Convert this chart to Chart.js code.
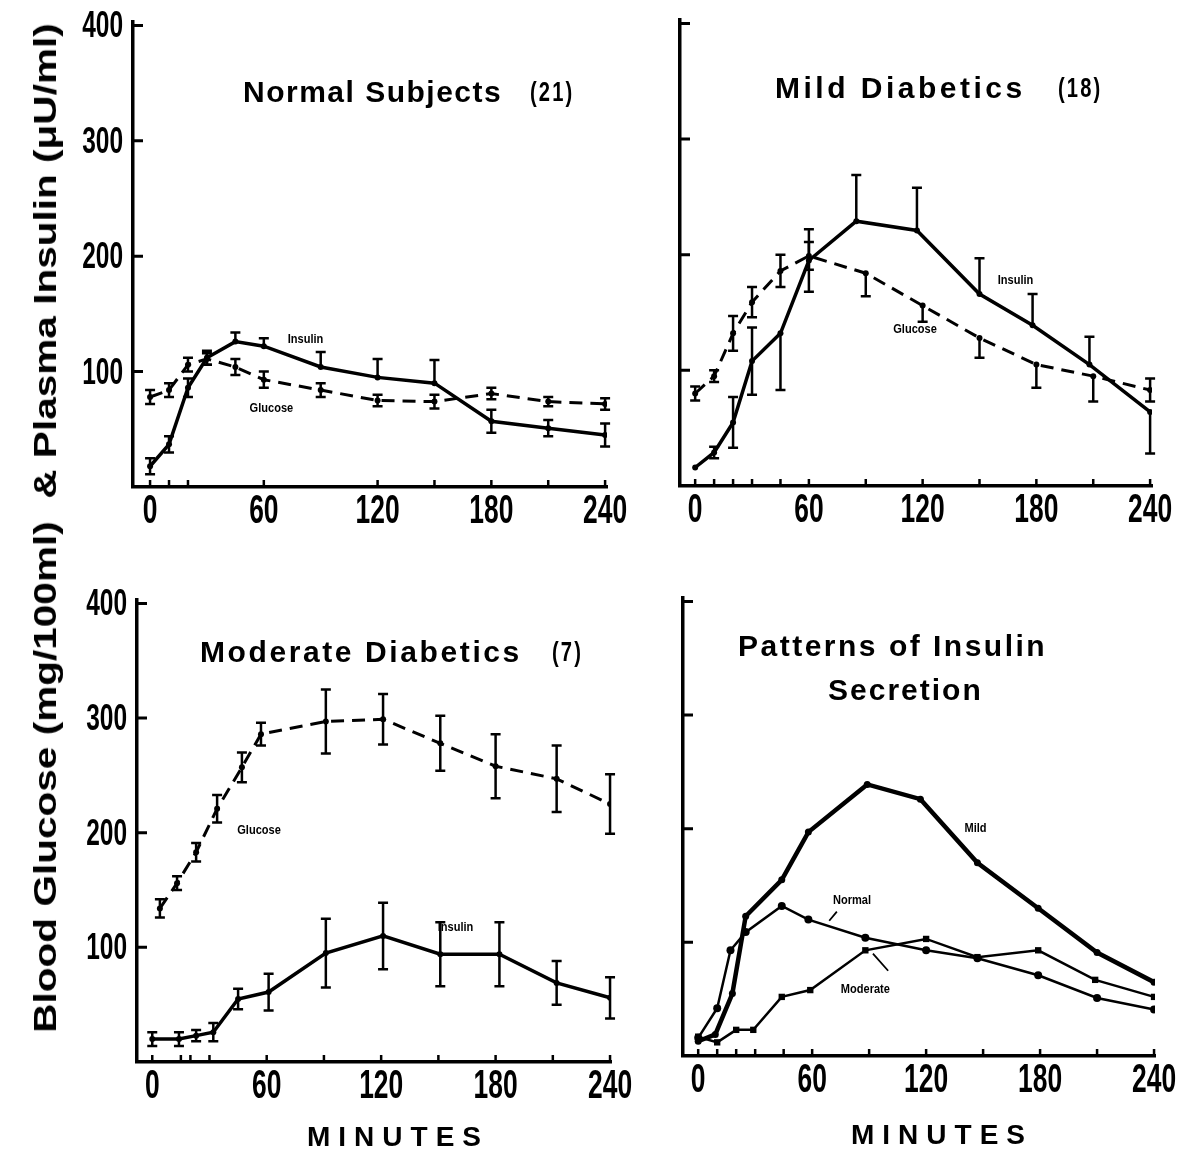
<!DOCTYPE html>
<html>
<head>
<meta charset="utf-8">
<script src="https://cdn.jsdelivr.net/npm/chart.js@4.4.1/dist/chart.umd.min.js"></script>
<style>
  body { margin: 0; width: 1187px; height: 1155px; background: #fff; position: relative; overflow: hidden;
         font-family: "Liberation Sans", Arial, sans-serif; color: #000; }
  canvas { position: absolute; }
  .t { position: absolute; font-weight: bold; white-space: pre; line-height: 1; transform: translateY(-50%); font-size: 30px; }
  .n { position: absolute; font-weight: bold; white-space: pre; line-height: 1; font-size: 28px;
       transform: translateY(-50%) scaleX(0.72); transform-origin: left center; letter-spacing: 3px; }
  .mins { position: absolute; font-weight: bold; font-size: 28px; letter-spacing: 8px; line-height: 1; transform: translate(-50%, -50%); }
  #ytitle { position: absolute; left: 45px; top: 528px; font-weight: bold; font-size: 32px; white-space: pre; line-height: 1;
            transform: translate(-50%, -50%) rotate(-90deg); }
</style>
</head>
<body>
<canvas id="c1" width="575" height="540" style="left:60px;top:0px"></canvas>
<canvas id="c2" width="547" height="540" style="left:640px;top:0px"></canvas>
<canvas id="c3" width="580" height="595" style="left:60px;top:560px"></canvas>
<canvas id="c4" width="547" height="595" style="left:640px;top:560px"></canvas>

<div id="ytitle">Blood Glucose (mg/100ml)  &amp; Plasma Insulin (μU/ml)</div>
<div class="t" style="left:243px;top:92px;letter-spacing:1.5px">Normal Subjects</div>
<div class="n" style="left:530px;top:92px">(21)</div>
<div class="t" style="left:775px;top:88px;letter-spacing:3.5px">Mild Diabetics</div>
<div class="n" style="left:1058px;top:88px">(18)</div>
<div class="t" style="left:200px;top:652px;letter-spacing:2.6px">Moderate Diabetics</div>
<div class="n" style="left:552px;top:652px">(7)</div>
<div class="t" style="left:738px;top:646px;letter-spacing:2.5px">Patterns of Insulin</div>
<div class="t" style="left:828px;top:690px;letter-spacing:2px">Secretion</div>
<div class="mins" style="left:398px;top:1137px">MINUTES</div>
<div class="mins" style="left:942px;top:1135px">MINUTES</div>

<script>
// axis ticks
const minuteTicks = [0, 60, 120, 180, 240];
const valueTicks = [100, 200, 300, 400];

// Normal Subjects (21)
const normInsMin = [0, 10, 20, 30, 45, 60, 90, 120, 150, 180, 210, 240];
const normIns = [18, 37, 86, 112, 126, 122, 104, 95, 90, 57, 51, 45];
const normInsUp = [7, 7, 8, 6, 8, 7, 13, 16, 20, 10, 7, 10];
const normInsDown = [7, 7, 8, 6, 0, 0, 0, 0, 0, 10, 7, 10];
const normGluMin = [0, 10, 20, 30, 45, 60, 90, 120, 150, 180, 210, 240];
const normGlu = [78, 84, 106, 111, 104, 93, 84, 75, 74, 81, 74, 72];
const normGluErr = [6, 6, 6, 5, 7, 7, 6, 5, 6, 5, 4, 5];

// Mild Diabetics (18)
const mildInsMin = [0, 10, 20, 30, 45, 60, 85, 117, 150, 178, 208, 240];
const mildIns = [16, 29, 55, 108, 132, 195, 229, 221, 166, 139, 105, 64];
const mildInsUp = [0, 5, 22, 29, 0, 27, 40, 37, 31, 27, 24, 0];
const mildInsDown = [0, 5, 22, 29, 49, 27, 0, 0, 0, 0, 0, 36];
const mildGluMin = [0, 10, 20, 30, 45, 60, 90, 120, 150, 180, 210, 240];
const mildGlu = [80, 95, 132, 159, 186, 199, 184, 156, 128, 105, 95, 83];
const mildGluUp = [6, 5, 15, 13, 14, 12, 0, 0, 0, 0, 0, 10];
const mildGluDown = [6, 5, 15, 13, 14, 12, 20, 14, 17, 20, 22, 10];

// Moderate Diabetics (7)
const modGluMin = [4, 13, 23, 34, 47, 57, 91, 121, 151, 180, 212, 240];
const modGlu = [134, 156, 183, 221, 257, 286, 297, 299, 278, 258, 247, 225];
const modGluErr = [8, 6, 8, 12, 13, 10, 28, 22, 24, 28, 29, 26];
const modInsMin = [0, 14, 23, 32, 45, 61, 91, 121, 151, 182, 212, 240];
const modIns = [20, 20, 23, 26, 55, 61, 95, 110, 94, 94, 69, 56];
const modInsErr = [6, 6, 5, 8, 9, 16, 30, 29, 28, 28, 19, 18];

// Patterns of Insulin Secretion
const patMildMin = [0, 9, 18, 25, 44, 58, 89, 117, 147, 179, 210, 240];
const patMild = [13, 19, 55, 123, 155, 197, 239, 226, 170, 130, 91, 65];
const patNormMin = [0, 10, 17, 25, 44, 58, 88, 120, 147, 179, 210, 240];
const patNorm = [16, 42, 93, 109, 132, 120, 104, 93, 86, 71, 51, 41];
const patModMin = [0, 10, 20, 29, 44, 59, 88, 120, 147, 179, 209, 240];
const patMod = [17, 12, 23, 23, 52, 58, 93, 103, 87, 93, 67, 52];

const pts = (xs, ys) => xs.map((x, i) => ({ x: x, y: ys[i] }));

// stretch the long y title to the height of both panels
const yt = document.getElementById('ytitle');
yt.style.transform = 'translate(-50%, -50%) rotate(-90deg) scaleX(' + (1010 / yt.offsetWidth) + ')';

// vertical error bars, drawn through the y scale
const errorBars = {
  id: 'errorBars',
  afterDatasetsDraw(chart) {
    const ctx = chart.ctx, ys = chart.scales.y;
    chart.data.datasets.forEach((ds, i) => {
      if (!ds.errUp) return;
      const meta = chart.getDatasetMeta(i);
      ctx.save();
      ctx.strokeStyle = '#000';
      ctx.lineWidth = 2.5;
      meta.data.forEach((p, j) => {
        const v = ds.data[j].y;
        const top = ys.getPixelForValue(v + ds.errUp[j]);
        const bot = ys.getPixelForValue(v - ds.errDown[j]);
        ctx.beginPath();
        ctx.moveTo(p.x, top); ctx.lineTo(p.x, bot);
        if (ds.errUp[j]) { ctx.moveTo(p.x - 5, top); ctx.lineTo(p.x + 5, top); }
        if (ds.errDown[j]) { ctx.moveTo(p.x - 5, bot); ctx.lineTo(p.x + 5, bot); }
        ctx.stroke();
      });
      ctx.restore();
    });
  }
};

// condensed text helper (the print uses a very narrow bold face)
function narrowText(ctx, text, x, y, sx) {
  ctx.save();
  ctx.translate(x, y);
  ctx.scale(sx, 1);
  ctx.fillText(text, 0, 0);
  ctx.restore();
}

// inward tick marks, tick labels and in-plot text labels
const marks = {
  id: 'marks',
  afterDraw(chart, args, opts) {
    const ctx = chart.ctx, xs = chart.scales.x, ys = chart.scales.y, a = chart.chartArea;
    ctx.save();
    ctx.strokeStyle = '#000';
    ctx.fillStyle = '#000';
    ctx.lineWidth = 3;
    ctx.beginPath();
    ys.ticks.forEach(t => {
      const py = ys.getPixelForValue(t.value);
      ctx.moveTo(a.left, py); ctx.lineTo(a.left + 10, py);
    });
    ctx.stroke();
    ctx.lineWidth = 2.5;
    ctx.beginPath();
    (opts.xMarks || []).forEach(m => {
      const px = xs.getPixelForValue(m);
      ctx.moveTo(px, a.bottom); ctx.lineTo(px, a.bottom - 7);
    });
    ctx.stroke();

    ctx.font = 'bold 40px "Liberation Sans", Arial, sans-serif';
    ctx.textBaseline = 'middle';
    ctx.textAlign = 'center';
    xs.ticks.forEach(t => {
      narrowText(ctx, String(t.value), xs.getPixelForValue(t.value), a.bottom + 25, 0.66);
    });
    if (opts.yLabels) {
      ctx.font = 'bold 36px "Liberation Sans", Arial, sans-serif';
      ctx.textAlign = 'right';
      ys.ticks.forEach(t => {
        narrowText(ctx, String(t.value), a.left - 10, ys.getPixelForValue(t.value) + 2, 0.68);
      });
    }

    ctx.lineWidth = 1.8;
    ctx.beginPath();
    (opts.leaders || []).forEach(l => {
      ctx.moveTo(xs.getPixelForValue(l[0]), ys.getPixelForValue(l[1]));
      ctx.lineTo(xs.getPixelForValue(l[2]), ys.getPixelForValue(l[3]));
    });
    ctx.stroke();
    ctx.font = 'bold 13px "Liberation Sans", Arial, sans-serif';
    ctx.textAlign = 'center';
    (opts.notes || []).forEach(n => {
      narrowText(ctx, n.text, xs.getPixelForValue(n.x), ys.getPixelForValue(n.y), 0.85);
    });
    ctx.restore();
  }
};

function line(xs, ys, extra) {
  return Object.assign({
    data: pts(xs, ys),
    borderColor: '#000',
    backgroundColor: '#000',
    borderWidth: 3.5,
    pointRadius: 3,
    pointBackgroundColor: '#000',
    pointBorderWidth: 0,
    tension: 0
  }, extra);
}

function panel(id, datasets, o) {
  return new Chart(document.getElementById(id), {
    type: 'line',
    data: { datasets: datasets },
    options: {
      responsive: false,
      animation: false,
      layout: { padding: { top: o.padTop, right: o.padRight, left: 0, bottom: 0 } },
      plugins: {
        legend: { display: false },
        tooltip: { enabled: false },
        marks: { xMarks: o.xMarks, notes: o.notes, leaders: o.leaders, yLabels: o.yLabels }
      },
      scales: {
        x: {
          type: 'linear', min: o.xMin, max: o.xMax,
          afterBuildTicks: s => { s.ticks = minuteTicks.map(v => ({ value: v })); },
          afterFit: s => { s.height = o.xH; },
          grid: { display: false, drawTicks: false },
          border: { display: true, color: '#000', width: 3.5 },
          ticks: { display: false }
        },
        y: {
          min: 0, max: 403,
          afterBuildTicks: s => { s.ticks = valueTicks.map(v => ({ value: v })); },
          afterFit: s => { s.width = o.yW; },
          grid: { display: false, drawTicks: false },
          border: { display: true, color: '#000', width: 3.5 },
          ticks: { display: false }
        }
      }
    },
    plugins: [errorBars, marks]
  });
}

const dash = [13, 8];

panel('c1', [
  line(normGluMin, normGlu, { borderWidth: 3, borderDash: dash, errUp: normGluErr, errDown: normGluErr }),
  line(normInsMin, normIns, { errUp: normInsUp, errDown: normInsDown })
], { padTop: 22, padRight: 28, xH: 53, yW: 73, xMin: -9, xMax: 241, yLabels: true,
     xMarks: [0, 10, 20, 60, 120, 150, 180, 210, 240],
     notes: [{ text: 'Insulin', x: 82, y: 128 }, { text: 'Glucose', x: 64, y: 68 }] });

panel('c2', [
  line(mildGluMin, mildGlu, { borderWidth: 3, borderDash: dash, errUp: mildGluUp, errDown: mildGluDown }),
  line(mildInsMin, mildIns, { errUp: mildInsUp, errDown: mildInsDown })
], { padTop: 20, padRight: 35, xH: 54, yW: 40, xMin: -8, xMax: 241, yLabels: false,
     xMarks: [0, 10, 20, 30, 45, 60, 90, 120, 150, 180, 210, 240],
     notes: [{ text: 'Insulin', x: 169, y: 178 }, { text: 'Glucose', x: 116, y: 135 }] });

panel('c3', [
  line(modGluMin, modGlu, { borderWidth: 3, borderDash: dash, errUp: modGluErr, errDown: modGluErr }),
  line(modInsMin, modIns, { errUp: modInsErr, errDown: modInsErr })
], { padTop: 40, padRight: 29, xH: 93, yW: 77, xMin: -8, xMax: 240.5, yLabels: true,
     xMarks: [0, 15, 20, 30, 60, 90, 120, 150, 180, 210, 240],
     notes: [{ text: 'Glucose', x: 56, y: 202 }, { text: 'Insulin', x: 159, y: 117 }] });

panel('c4', [
  line(patMildMin, patMild, { borderWidth: 4.5, pointRadius: 3.5 }),
  line(patNormMin, patNorm, { borderWidth: 2.5, pointRadius: 4 }),
  line(patModMin, patMod, { borderWidth: 2.5, pointRadius: 4.5, pointStyle: 'rect' })
], { padTop: 38, padRight: 32, xH: 99, yW: 43, xMin: -8, xMax: 240.5, yLabels: false,
     xMarks: [0, 10, 20, 30, 45, 60, 90, 120, 150, 180, 210, 240],
     notes: [{ text: 'Mild', x: 146, y: 200 }, { text: 'Normal', x: 81, y: 137 },
             { text: 'Moderate', x: 88, y: 59 }],
     leaders: [[73, 127, 69, 119], [92, 90, 100, 75]] });
</script>
</body>
</html>
